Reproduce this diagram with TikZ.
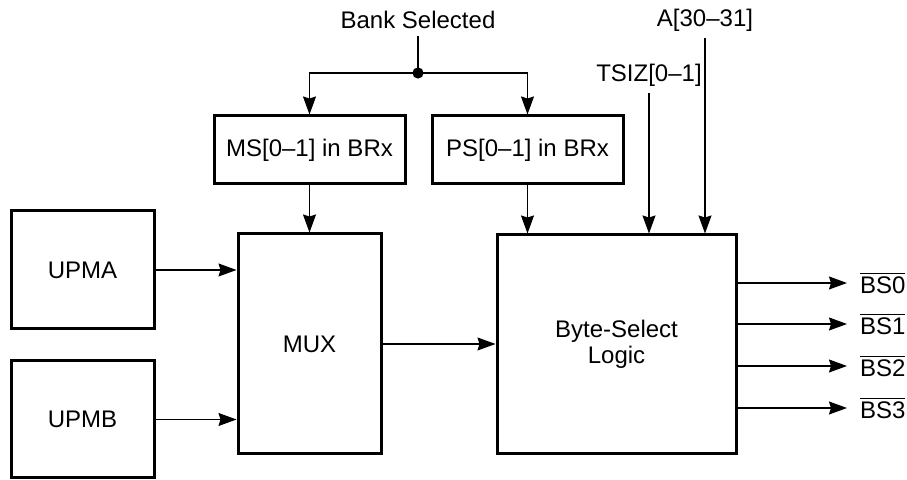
\documentclass[tikz,border=0pt]{standalone}
\usepackage{fontspec}
\setmainfont{Liberation Sans}
\usetikzlibrary{arrows.meta}

\begin{document}
\begin{tikzpicture}[x=0.5pt, y=-0.5pt,
    font=\fontsize{12}{13}\selectfont,
    block/.style={draw, line width=1.5pt, align=center},
    sig/.style={line width=0.6pt},
    sigArrow/.style={sig, -{Stealth[length=9pt,width=6.5pt,inset=1pt]}}]
      \useasboundingbox (0,0) rectangle (907,480);

      % blocks
      \node[block, minimum width=71.5pt, minimum height=59pt] (upma) at (82.5,270) {UPMA};
      \node[block, minimum width=71.5pt, minimum height=58.5pt] (upmb) at (82.5,419.5) {UPMB};
      \node[block, minimum width=71.5pt, minimum height=110pt] (mux) at (309.5,344) {MUX};
      \node[block, minimum width=95.5pt, minimum height=34pt] (msBrx) at (309.5,150) {MS[0--1] in BRx};
      \node[block, minimum width=95.5pt, minimum height=34pt] (psBrx) at (527.5,150) {PS[0--1] in BRx};
      \node[block, minimum width=119.5pt, minimum height=109.5pt] (bsLogic) at (616.5,344.5) {Byte-Select\\Logic};

      % input signals
      \node (bank) at (418,20) {Bank Selected};
      \node (tsiz) at (649,75) {TSIZ[0--1]};
      \node (addr) at (705,20) {A[30--31]};
      \coordinate (split) at (418,73);

      \draw[sig] (bank) -- (split);
      \fill (split) circle (2.8pt);
      \draw[sigArrow] (split) -| (msBrx);
      \draw[sigArrow] (split) -| (psBrx);
      \draw[sigArrow] (msBrx) -- (mux);
      \draw[sigArrow] (psBrx.south) -- (psBrx.south |- bsLogic.north);
      \draw[sigArrow] (tsiz.south) -- (tsiz.south |- bsLogic.north);
      \draw[sigArrow] (addr.south) -- (addr.south |- bsLogic.north);

      \draw[sigArrow] (upma.east) -- (upma.east -| mux.west);
      \draw[sigArrow] (upmb.east) -- (upmb.east -| mux.west);
      \draw[sigArrow] (mux.east) -- (mux.east -| bsLogic.west);

      % byte select outputs
      \foreach \k/\yy in {0/283,1/324,2/366,3/408} {
        \node[anchor=west] (bs\k) at (853,\yy) {$\overline{\mbox{BS\k}}$};
        \draw[sigArrow, shorten >=3pt] (bs\k -| bsLogic.east) -- (bs\k.west);
      }
    \end{tikzpicture}
\end{document}
